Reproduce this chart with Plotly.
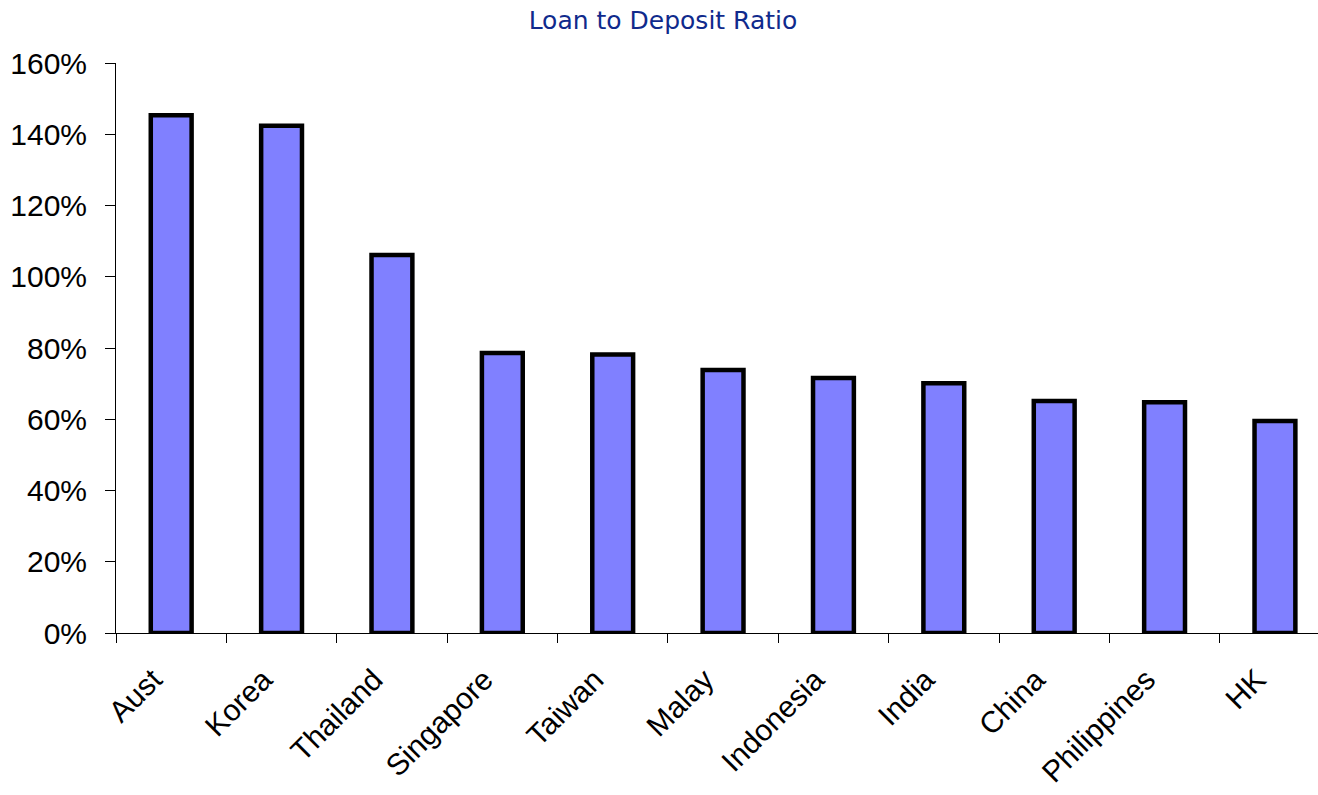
import plotly.graph_objects as go

categories = ["Aust", "Korea", "Thailand", "Singapore", "Taiwan", "Malay",
              "Indonesia", "India", "China", "Philippines", "HK"]
ratios = [1.453, 1.424, 1.061, 0.786, 0.782, 0.738, 0.716, 0.701, 0.651, 0.648, 0.595]
y_ticks = [0, 0.2, 0.4, 0.6, 0.8, 1.0, 1.2, 1.4, 1.6]

fig = go.Figure(go.Bar(
    x=categories, y=ratios, width=0.37,
    marker=dict(color="#8080FF", line=dict(color="black", width=4.5)),
))

fig.update_layout(
    width=1318, height=795,
    margin=dict(l=116, r=0, t=63, b=162, autoexpand=False),
    paper_bgcolor="white", plot_bgcolor="white",
    showlegend=False,
    title=dict(text="Loan to Deposit Ratio", x=0.503, xanchor="center",
               y=0.975, yanchor="middle",
               font=dict(family="DejaVu Sans", size=25, color="#102A8C")),
    font=dict(family="Liberation Sans, Arial", color="black"),
)
fig.update_yaxes(
    range=[0, 1.6], tickvals=y_ticks, tickformat=".0%",
    showgrid=False, zeroline=False, automargin=False,
    showline=True, linecolor="black", linewidth=1,
    ticks="outside", ticklen=10, tickcolor="black", ticklabelstandoff=12,
    tickfont=dict(size=30, color="black"),
)
fig.update_xaxes(
    range=[-0.5, 10.39], showgrid=False, automargin=False,
    showline=True, linecolor="black", linewidth=1,
    ticks="outside", ticklen=9, tickcolor="black", tickson="boundaries",
    tickangle=-45, ticklabelstandoff=16, ticklabelshift=-18,
    tickfont=dict(size=30, color="black"),
)

fig.write_html(
    "out.html",
    config={"displayModeBar": False},
    post_script="document.body.style.margin='0';document.body.style.overflow='hidden';",
)
